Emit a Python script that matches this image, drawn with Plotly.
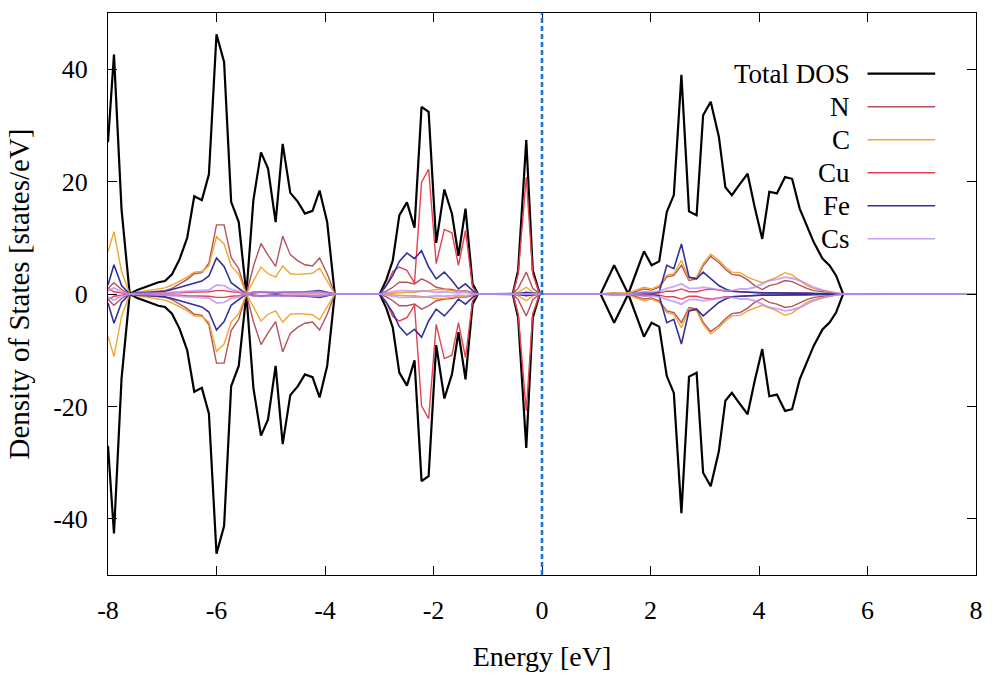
import plotly.graph_objects as go

# ---------------- data ----------------
ENERGY = (
    [-8.0, -7.89, -7.75, -7.6, -7.46, -7.33, -7.2, -7.07, -6.95, -6.82, -6.68, -6.54, -6.41, -6.27, -6.14, -6.0,
     -5.86, -5.73, -5.59, -5.45, -5.32, -5.18, -5.05, -4.91, -4.78, -4.64, -4.5, -4.37, -4.23, -4.1, -3.96, -3.82]
    + [-2.99, -2.87, -2.75, -2.63, -2.49, -2.35, -2.22, -2.09, -1.95, -1.80, -1.66, -1.54, -1.41, -1.28, -1.18]
    + [-0.54, -0.44, -0.29, -0.17, -0.04]
    + [1.08, 1.33, 1.59, 1.88, 2.02, 2.16, 2.30, 2.43, 2.57, 2.71, 2.85, 2.97, 3.11, 3.26, 3.38, 3.50, 3.65,
       3.79, 3.92, 4.06, 4.19, 4.33, 4.48, 4.61, 4.75, 4.88, 5.01, 5.17, 5.30, 5.42, 5.55]
    + [8.0]
)

TOTAL = (
    [27, 42.6, 15, 0, 0.7, 1.2, 1.7, 2.1, 2.3, 3.5, 6.2, 10, 17.4, 16.7, 21.3, 46.2, 41.3, 16.4, 12.8, 0,
     16.7, 25.2, 22.3, 12.8, 26.7, 18.0, 16.4, 14.3, 14.8, 18.4, 12.8, 0]
    + [0, 2.5, 6.0, 14.0, 16.3, 11.8, 33.3, 32.4, 9.1, 18.6, 14.3, 6.8, 15.2, 1.8, 0]
    + [0, 4.2, 27.4, 4.2, 0]
    + [0, 5.1, 0, 7.6, 5.1, 5.8, 14.6, 17.6, 39.0, 14.7, 14.0, 31.8, 34.2, 28.0, 19.0, 17.6, 19.6, 21.4,
       15.5, 9.8, 18.2, 17.9, 20.8, 20.5, 15.2, 12.2, 9.2, 6.3, 5.1, 3.3, 0]
    + [0]
)

N_PDOS = (
    [1.0, 2.0, 0.8, 0, 0.2, 0.3, 0.4, 0.5, 0.6, 1.0, 1.8, 2.6, 3.6, 3.8, 5.5, 12.3, 12.3, 6.5, 4.5, 0,
     4.9, 9.0, 6.9, 4.9, 10.3, 7.0, 5.9, 5.2, 5.0, 6.4, 3.6, 0]
    + [0, 0.5, 1.2, 2.1, 2.1, 1.8, 2.7, 2.1, 1.2, 0.9, 0.8, 0.5, 0.6, 0.2, 0]
    + [0, 1.0, 3.9, 1.0, 0]
    + [0, 0.2, 0, 0.9, 0.7, 1.2, 3.0, 3.3, 5.1, 2.4, 2.7, 5.0, 6.7, 5.6, 4.4, 3.5, 3.3, 2.5,
       1.5, 0.8, 1.5, 1.8, 2.4, 2.2, 1.5, 1.0, 0.6, 0.4, 0.2, 0.1, 0]
    + [0]
)

C_PDOS = (
    [7.5, 11.1, 4.0, 0, 0.3, 0.5, 0.7, 0.9, 1.1, 1.6, 2.3, 3.0, 3.9, 4.0, 5.0, 10.2, 8.9, 5.0, 3.5, 0,
     2.3, 4.8, 3.6, 3.0, 5.0, 3.6, 3.5, 3.6, 3.7, 4.6, 2.3, 0]
    + [0, 0.1, 0.2, 0.3, 0.3, 0.3, 0.4, 0.6, 0.8, 0.8, 0.6, 0.4, 0.5, 0.1, 0]
    + [0, 0.3, 1.2, 0.3, 0]
    + [0, 0.2, 0.2, 1.2, 0.9, 1.5, 3.3, 3.6, 6.0, 2.7, 3.0, 5.4, 7.1, 6.0, 4.8, 3.9, 3.8, 3.0,
       2.5, 2.0, 2.4, 3.0, 3.8, 3.4, 2.4, 1.5, 1.0, 0.6, 0.4, 0.2, 0]
    + [0]
)

CU_PDOS = (
    [1.0, 0.4, 0.2, 0, 0.1, 0.1, 0.1, 0.1, 0.1, 0.2, 0.2, 0.3, 0.3, 0.3, 0.4, 0.6, 0.6, 0.4, 0.3, 0,
     0.2, 0.3, 0.2, 0.2, 0.3, 0.2, 0.2, 0.2, 0.2, 0.3, 0.2, 0]
    + [0, 1.5, 4.0, 4.8, 4.2, 2.0, 19.9, 22.2, 5.4, 11.5, 10.9, 5.1, 11.3, 1.2, 0]
    + [0, 3.5, 20.8, 3.5, 0]
    + [0, 0, 0, 0.1, 0.1, 0.2, 0.5, 0.5, 0.9, 0.4, 0.4, 0.7, 0.9, 0.7, 0.5, 0.5, 0.4, 0.3,
       0.3, 0.2, 0.2, 0.2, 0.3, 0.3, 0.2, 0.2, 0.1, 0.1, 0.1, 0, 0]
    + [0]
)

FE_PDOS = (
    [1.6, 5.2, 1.5, 0, 0.2, 0.2, 0.3, 0.4, 0.5, 0.8, 1.2, 1.6, 2.0, 2.3, 3.2, 6.4, 4.9, 2.0, 1.0, 0,
     0.3, 0.4, 0.3, 0.2, 0.3, 0.3, 0.4, 0.4, 0.5, 0.6, 0.3, 0]
    + [0, 1.5, 3.3, 5.8, 7.3, 6.3, 7.7, 4.8, 2.7, 3.9, 2.4, 0.9, 1.8, 0.6, 0]
    + [0, 0.1, 0.3, 0.1, 0]
    + [0, 0, 0, 0.3, 0.2, 0.3, 5.1, 4.5, 8.9, 3.0, 2.7, 3.9, 2.7, 1.5, 0.9, 0.5, 0.4, 0.3,
       0.3, 0.2, 0.2, 0.2, 0.2, 0.2, 0.1, 0.1, 0.1, 0.1, 0, 0, 0]
    + [0]
)

CS_PDOS = (
    [0.5, 1.1, 0.4, 0, 0.1, 0.1, 0.2, 0.2, 0.2, 0.3, 0.4, 0.5, 0.5, 0.6, 0.7, 1.6, 1.5, 0.8, 0.5, 0,
     0.3, 0.4, 0.3, 0.3, 0.4, 0.3, 0.3, 0.3, 0.3, 0.4, 0.2, 0]
    + [0, 0.2, 0.4, 0.6, 0.6, 0.5, 0.6, 0.5, 0.3, 0.4, 0.3, 0.2, 0.3, 0.1, 0]
    + [0, 0, 0.1, 0, 0]
    + [0, 0, 0, 0.3, 0.3, 0.5, 1.0, 1.3, 1.8, 1.0, 1.0, 1.2, 1.0, 0.8, 0.6, 0.6, 0.9, 0.9,
       1.2, 1.8, 2.4, 2.6, 3.0, 2.8, 2.4, 1.8, 1.2, 0.7, 0.4, 0.2, 0]
    + [0]
)

SERIES_NAMES = ["Total DOS", "N", "C", "Cu", "Fe", "Cs"]
SERIES_VALUES = [TOTAL, N_PDOS, C_PDOS, CU_PDOS, FE_PDOS, CS_PDOS]

X_TICKS = [-8, -6, -4, -2, 0, 2, 4, 6, 8]
X_TICK_LABELS = ["-8", "-6", "-4", "-2", "0", "2", "4", "6", "8"]
Y_TICKS = [-40, -20, 0, 20, 40]
Y_TICK_LABELS = ["-40", "-20", "0", "20", "40"]
FERMI_LEVEL = 0

# ---------------- styles ----------------
COLORS = ["#000000", "#b5525a", "#f2a530", "#e6404e", "#32329a", "#b98ef0"]
WIDTHS = [2.2, 1.4, 1.4, 1.4, 1.6, 1.9]
OPACITY = [1, 1, 1, 1, 1, 0.75]
FONT = "Liberation Serif"

for vals in SERIES_VALUES:
    assert len(vals) == len(ENERGY)

fig = go.Figure()
for name, vals, col, w, op in zip(SERIES_NAMES, SERIES_VALUES, COLORS, WIDTHS, OPACITY):
    fig.add_trace(go.Scatter(x=ENERGY, y=vals, mode="lines", name=name, opacity=op,
                             line=dict(color=col, width=w), showlegend=False))
    fig.add_trace(go.Scatter(x=ENERGY, y=[-v for v in vals], mode="lines", name=name, opacity=op,
                             line=dict(color=col, width=w), showlegend=False))

# Fermi level
fig.add_vline(x=FERMI_LEVEL, line=dict(color="#1a74d2", width=2.6, dash="5px,3px"))

# manual legend (text right-aligned, line sample on the right)
L, R, T, B = 108, 980, 12, 577
PW, PH = R - L, B - T
def px(xp):
    return (xp - L) / PW
def py(yp):
    return (B - yp) / PH

y0 = 73
step = 33.2
LEGEND_COLORS = ["#000000", "#b5525a", "#f2a530", "#e6404e", "#32329a", "#c8a2f6"]
LEGEND_WIDTHS = [2.2, 1.4, 1.4, 1.4, 1.4, 1.4]
for i, (name, col, w) in enumerate(zip(SERIES_NAMES, LEGEND_COLORS, LEGEND_WIDTHS)):
    yy = py(y0 + i * step)
    fig.add_annotation(x=px(855), y=yy, xref="paper", yref="paper", text=name,
                       showarrow=False, xanchor="right", yanchor="middle",
                       font=dict(family=FONT, size=27, color="black"))
    fig.add_shape(type="line", xref="paper", yref="paper",
                  x0=px(871), x1=px(939), y0=yy, y1=yy,
                  line=dict(color=col, width=w))

axis_common = dict(showgrid=False, zeroline=False, showline=True, linecolor="black",
                   linewidth=1, mirror="ticks", ticks="inside", ticklen=9, tickwidth=1,
                   tickcolor="black", tickfont=dict(family=FONT, size=26, color="black"))

fig.update_xaxes(range=[-8, 8], tickvals=X_TICKS, ticktext=X_TICK_LABELS,
                 title=dict(text="Energy [eV]", font=dict(family=FONT, size=28, color="black"),
                            standoff=22),
                 ticklabelstandoff=12, **axis_common)
fig.update_yaxes(range=[-50, 50], tickvals=Y_TICKS, ticktext=Y_TICK_LABELS,
                 title=dict(text="Density of States [states/eV]",
                            font=dict(family=FONT, size=29, color="black"), standoff=14),
                 ticklabelstandoff=14, **axis_common)

fig.update_layout(width=995, height=679, margin=dict(l=L, r=995 - R, t=T, b=679 - B),
                  plot_bgcolor="white", paper_bgcolor="white", showlegend=False)

fig.write_html("out.html")
